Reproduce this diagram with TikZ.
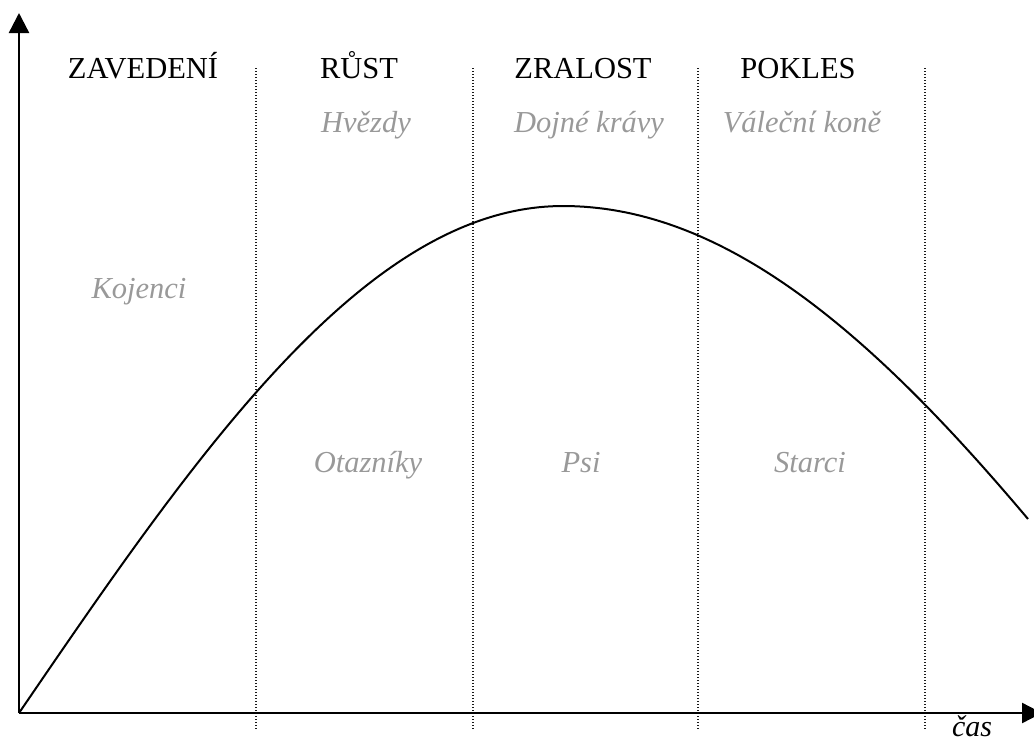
\documentclass[tikz,border=0pt]{standalone}
\usepackage{fontspec}
\setmainfont{Liberation Serif}
\usetikzlibrary{arrows.meta}
\tikzset{
  axisline/.style={line width=2.4pt,-{Triangle[length=20pt,width=20pt]}},
  sepline/.style={line width=1.4pt,dash pattern=on 1.4pt off 1.6pt,black!90},
  curveline/.style={line width=2pt},
  phase/.style={anchor=base,inner sep=0pt,font=\fontsize{30.5}{36}\selectfont},
  pet/.style={anchor=base,inner sep=0pt,text=black!40,font=\fontsize{30.5}{36}\selectfont\itshape},
}
\begin{document}
\begin{tikzpicture}[x=1pt,y=-1pt]
\useasboundingbox (0,0) rectangle (1034,744);
\coordinate (O) at (19,713);
\coordinate (ytip) at (19,13);
\coordinate (xtip) at (1042,713);
% separators
\foreach \x in {256,473,698,925} \draw[sepline] (\x,68) -- (\x,730);
% axes
\draw[axisline] (O) -- (ytip);
\draw[axisline] (O) -- (xtip);
% curve
\draw[curveline,line join=round] plot[domain=0:544,samples=90] ({19+\x},{713-507*sin(90*(\x/544))})
  -- plot[domain=544:1009,samples=90] ({19+\x},{713-507*cos(90*((\x-544)/620))});
% phase labels
\node[phase] (zav) at (143,78) {ZAVEDENÍ};
\node[phase] (rust) at (359,78) {RŮST};
\node[phase] (zral) at (583,78) {ZRALOST};
\node[phase] (pok) at (798,78) {POKLES};
% portfolio labels
\node[pet] (hv) at (366,132) {Hvězdy};
\node[pet] (dk) at (589,132) {Dojné krávy};
\node[pet] (vk) at (802,132) {Válečnί koně};
\node[pet] (koj) at (139,298) {Kojenci};
\node[pet] (ota) at (368,472) {Otazníky};
\node[pet] (psi) at (581,472) {Psi};
\node[pet] (sta) at (810,472) {Starci};
\node[anchor=base,inner sep=0pt,font=\fontsize{30}{36}\selectfont\itshape] (cas) at (972,736) {čas};
\end{tikzpicture}
\end{document}
